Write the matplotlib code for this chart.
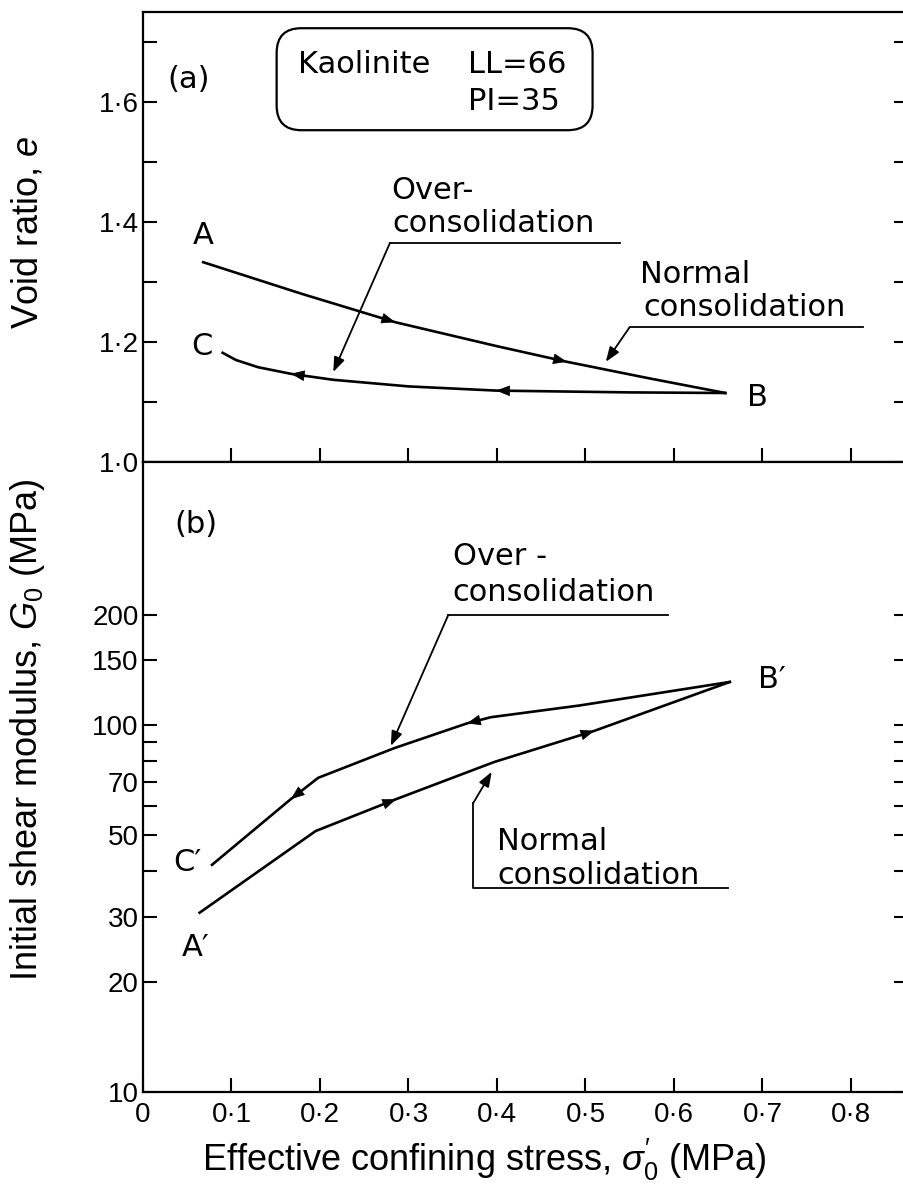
import numpy as np
import matplotlib
matplotlib.use("Agg")
import matplotlib.pyplot as plt
from matplotlib.patches import FancyBboxPatch
from matplotlib.ticker import FixedLocator, NullFormatter

plt.rcParams["mathtext.fontset"] = "custom"
plt.rcParams["mathtext.rm"] = "Liberation Sans"
plt.rcParams["mathtext.it"] = "Liberation Sans:italic"

# (a) void ratio vs effective confining stress
nc_a_x = [0.068, 0.18, 0.285, 0.40, 0.479, 0.57, 0.658]
nc_a_e = [1.333, 1.280, 1.233, 1.193, 1.167, 1.140, 1.115]
oc_a_x = [0.658, 0.55, 0.399, 0.30, 0.215, 0.167, 0.13, 0.105, 0.090]
oc_a_e = [1.115, 1.116, 1.119, 1.126, 1.137, 1.147, 1.158, 1.170, 1.182]

# (b) initial shear modulus vs effective confining stress
nc_b_x = [0.064, 0.195, 0.286, 0.397, 0.510, 0.663]
nc_b_g = [30.8, 51.4, 62.8, 79.3, 96.4, 131]
oc_b_x = [0.663, 0.493, 0.393, 0.366, 0.284, 0.198, 0.167, 0.078]
oc_b_g = [131, 113, 105, 101, 86.5, 71.8, 62.8, 41.6]

x_ticks = [0, 0.1, 0.2, 0.3, 0.4, 0.5, 0.6, 0.7, 0.8]
x_labels = ["0", "0·1", "0·2", "0·3", "0·4", "0·5", "0·6", "0·7", "0·8"]
e_ticks = [1.0, 1.2, 1.4, 1.6]
e_labels = ["1·0", "1·2", "1·4", "1·6"]
e_minor = [1.1, 1.3, 1.5, 1.7]
g_ticks = [10, 20, 30, 50, 70, 100, 150, 200]
g_labels = ["10", "20", "30", "50", "70", "100", "150", "200"]
g_minor = [40, 60, 80, 90]

TXT = dict(fontsize=22, family="DejaVu Sans")
TICKFONT = dict(fontsize=20, family="Liberation Sans")
LBLFONT = dict(fontsize=26, family="Liberation Sans")


def style_axes(ax):
    for s in ax.spines.values():
        s.set_linewidth(1.6)
    ax.tick_params(which="both", direction="in", length=10, width=1.5,
                   left=True, right=True, top=False, bottom=True,
                   labelright=False, pad=3)


def flow_arrows(ax, xs, ys, at, forward=True, log=False):
    xs = np.asarray(xs)
    ys = np.log10(ys) if log else np.asarray(ys)
    order = np.argsort(xs)
    for xa in at:
        d = 0.01 if forward else -0.01
        x0, x1 = xa - d, xa
        y0 = np.interp(x0, xs[order], ys[order])
        y1 = np.interp(x1, xs[order], ys[order])
        if log:
            y0, y1 = 10 ** y0, 10 ** y1
        ax.annotate("", xy=(x1, y1), xytext=(x0, y0),
                    arrowprops=dict(arrowstyle="-|>,head_length=0.9,head_width=0.35",
                                    color="k", lw=0.5, shrinkA=0, shrinkB=0,
                                    mutation_scale=10))


def leader(ax, pts, tip):
    xs = [p[0] for p in pts]
    ys = [p[1] for p in pts]
    ax.plot(xs, ys, color="k", lw=1.3)
    ax.annotate("", xy=tip, xytext=pts[-1],
                arrowprops=dict(arrowstyle="-|>,head_length=0.8,head_width=0.3",
                                color="k", lw=1.3, shrinkA=0, shrinkB=0,
                                mutation_scale=11))


fig = plt.figure(figsize=(9.04, 11.87), dpi=100)
W, H = 904, 1187
x_right = (908 - 143) / 885
ax1 = fig.add_axes([143 / W, 1 - 462 / H, (908 - 143) / W, 450 / H])
ax2 = fig.add_axes([143 / W, 1 - 1092 / H, (908 - 143) / W, 630 / H])

# ---- panel (a)
ax1.plot(nc_a_x, nc_a_e, color="k", lw=1.9)
ax1.plot(oc_a_x, oc_a_e, color="k", lw=1.9)
flow_arrows(ax1, nc_a_x, nc_a_e, [0.285, 0.479], forward=True)
flow_arrows(ax1, oc_a_x, oc_a_e, [0.167, 0.399], forward=False)
ax1.set_xlim(0, x_right)
ax1.set_ylim(1.0, 1.75)
ax1.xaxis.set_major_locator(FixedLocator(x_ticks[1:]))
ax1.xaxis.set_major_formatter(NullFormatter())
ax1.yaxis.set_major_locator(FixedLocator(e_ticks))
ax1.yaxis.set_minor_locator(FixedLocator(e_minor))
ax1.set_yticklabels(e_labels, **TICKFONT)
style_axes(ax1)

ax1.text(0.027, 1.637, "(a)", ha="left", va="center", **TXT)
ax1.text(0.068, 1.378, "A", ha="center", va="center", **TXT)
ax1.text(0.067, 1.192, "C", ha="center", va="center", **TXT)
ax1.text(0.694, 1.107, "B", ha="center", va="center", **TXT)

box = FancyBboxPatch((0.151, 1.553), 0.357, 0.170,
                     boxstyle="round,pad=0,rounding_size=0.028",
                     mutation_aspect=885 / 600, fc="white", ec="k", lw=1.6)
ax1.add_patch(box)
ax1.text(0.175, 1.662, "Kaolinite", ha="left", va="center", **TXT)
ax1.text(0.367, 1.662, "LL=66", ha="left", va="center", **TXT)
ax1.text(0.367, 1.600, "PI=35", ha="left", va="center", **TXT)

ax1.text(0.281, 1.453, "Over-", ha="left", va="center", **TXT)
ax1.text(0.282, 1.398, "consolidation", ha="left", va="center", **TXT)
leader(ax1, [(0.539, 1.365), (0.279, 1.365)], (0.215, 1.150))

ax1.text(0.562, 1.312, "Normal", ha="left", va="center", **TXT)
ax1.text(0.565, 1.257, "consolidation", ha="left", va="center", **TXT)
leader(ax1, [(0.814, 1.225), (0.550, 1.225)], (0.523, 1.167))

# ---- panel (b)
ax2.set_yscale("log")
ax2.plot(nc_b_x, nc_b_g, color="k", lw=1.9)
ax2.plot(oc_b_x, oc_b_g, color="k", lw=1.9)
flow_arrows(ax2, nc_b_x, nc_b_g, [0.286, 0.510], forward=True, log=True)
flow_arrows(ax2, oc_b_x, oc_b_g, [0.167, 0.366], forward=False, log=True)
ax2.set_xlim(0, x_right)
ax2.set_ylim(10, 10 ** (1 + 630 / 367))
ax2.xaxis.set_major_locator(FixedLocator(x_ticks))
ax2.set_xticklabels(x_labels, **TICKFONT)
ax2.yaxis.set_major_locator(FixedLocator(g_ticks))
ax2.yaxis.set_minor_locator(FixedLocator(g_minor))
ax2.yaxis.set_minor_formatter(NullFormatter())
ax2.set_yticklabels(g_labels, **TICKFONT)
style_axes(ax2)
ax2.tick_params(axis="x", pad=7)

ax2.text(0.035, 351, "(b)", ha="left", va="center", **TXT)
ax2.text(0.059, 24.8, "A′", ha="center", va="center", **TXT)
ax2.text(0.050, 42.1, "C′", ha="center", va="center", **TXT)
ax2.text(0.711, 132.7, "B′", ha="center", va="center", **TXT)

ax2.text(0.350, 287, "Over -", ha="left", va="center", **TXT)
ax2.text(0.350, 229, "consolidation", ha="left", va="center", **TXT)
leader(ax2, [(0.593, 199.5), (0.345, 199.5)], (0.280, 87.7))

ax2.text(0.400, 48.0, "Normal", ha="left", va="center", **TXT)
ax2.text(0.400, 39.0, "consolidation", ha="left", va="center", **TXT)
leader(ax2, [(0.661, 35.9), (0.373, 35.9), (0.373, 61.2)], (0.394, 74.5))

fig.text(28 / W, 1 - 232 / H, "Void ratio, $e$", rotation=90,
         ha="center", va="center", **LBLFONT)
fig.text(28 / W, 1 - 730 / H, "Initial shear modulus, $G_0$ (MPa)", rotation=90,
         ha="center", va="center", **LBLFONT)
fig.text(484 / W, 1 - 1160 / H, "Effective confining stress, $\\sigma_0^{\\prime}$ (MPa)",
         ha="center", va="center", **LBLFONT)

fig.savefig("out.png", dpi=100)
